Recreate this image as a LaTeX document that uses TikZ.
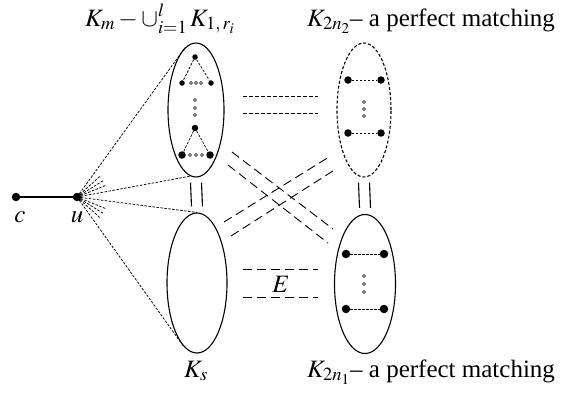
\documentclass[tikz,border=0pt]{standalone}
\usepackage{mathptmx}
\usepackage{fontspec}
\setmainfont{Liberation Serif}
\usetikzlibrary{shapes.geometric,calc}
\begin{document}
\begin{tikzpicture}[x=1pt,y=-1pt,
  ell/.style={draw, ellipse, line width=1.1pt, inner sep=0pt},
  vtx/.style={circle, fill, inner sep=0pt, minimum size=#1},
  vtx/.default=5pt,
  sdot/.style={circle, draw, line width=0.6pt, inner sep=0pt, minimum size=3pt},
  fan/.style={line width=0.75pt, dash pattern=on 2.5pt off 1.5pt},
  inner/.style={line width=0.7pt, dash pattern=on 2.5pt off 1.5pt},
  shortdash/.style={line width=0.9pt, dash pattern=on 4pt off 2pt},
  longdash/.style={line width=0.9pt, dash pattern=on 9pt off 5pt},
  link/.style={line width=1.1pt},
  lbl/.style={font=\fontsize{25}{29}\selectfont, inner sep=0pt, anchor=base}
]
\useasboundingbox (0,0) rectangle (561,394);

% ellipses
\node[ell, minimum width=56pt, minimum height=134pt] (A) at (196,110) {};
\node[ell, minimum width=60pt, minimum height=140pt] (B) at (197,283) {};
\node[ell, dash pattern=on 3pt off 2pt, minimum width=54pt, minimum height=134pt] (C) at (364,110) {};
\node[ell, minimum width=61pt, minimum height=139pt] (D) at (365,284) {};

% c and u
\node[vtx=8.5pt] (c) at (16,197) {};
\node[vtx=8.5pt] (u) at (77,197) {};
\draw[line width=1.3pt] (c) -- (u);
\node[lbl] (cl) at (20,222) {$c$};
\node[lbl] (ul) at (77,222) {$u$};

% fan from u
\draw[fan] (u.center) -- (A.100);
\draw[fan] (u.center) -- (A.265);
\draw[fan] (u.center) -- (B.north);
\draw[fan] (u.center) -- (B.258);
\foreach \a in {42,32,22,-22,-32,-42}
  \draw[fan] (u.center) -- ++({31*cos(\a)},{-31*sin(\a)});

% contents of A
\node[vtx=5.5pt] (a1) at (195,57) {};
\node[vtx=5.5pt] (a2) at (182,83) {};
\node[vtx=5.5pt] (a3) at (211,83) {};
\draw[inner] (a1) -- (a2);
\draw[inner] (a1) -- (a3);
\foreach \x in {191,196,201} \node[sdot] at (\x,83) {};
\foreach \y in {100,108,115} \node[sdot] at (195,\y) {};
\node[vtx=6.5pt] (a4) at (195,128) {};
\node[vtx=7.5pt] (a5) at (182,155) {};
\node[vtx=7.5pt] (a6) at (210,155) {};
\draw[inner] (a4) -- (a5);
\draw[inner] (a4) -- (a6);
\foreach \x in {190,196,202} \node[sdot] at (\x,155) {};

% contents of C
\node[vtx=7.5pt] (c1) at (348,80) {};
\node[vtx=7.5pt] (c2) at (381,80) {};
\node[vtx=7.5pt] (c3) at (348,133) {};
\node[vtx=7.5pt] (c4) at (381,133) {};
\draw[inner] (c1) -- (c2);
\draw[inner] (c3) -- (c4);
\foreach \y in {102,109,116} \node[sdot] at (364,\y) {};

% contents of D
\node[vtx=8.5pt] (d1) at (346,254) {};
\node[vtx=8.5pt] (d2) at (384,254) {};
\node[vtx=8.5pt] (d3) at (346,309) {};
\node[vtx=8.5pt] (d4) at (384,309) {};
\draw[inner] (d1) -- (d2);
\draw[inner] (d3) -- (d4);
\foreach \y in {276,284,292} \node[sdot] at (364,\y) {};

% double vertical links
\draw[link] ($(A.south)+(-5.5,5)$) -- ($(B.north)+(-5.5,-6)$);
\draw[link] ($(A.south)+(5.5,5)$) -- ($(B.north)+(5.5,-6)$);
\draw[link] ($(C.south)+(-5.5,5)$) -- ($(D.north)+(-5.5,-6)$);
\draw[link] ($(C.south)+(5.5,5)$) -- ($(D.north)+(5.5,-6)$);

% A -- C dashed pair
\draw[shortdash] (243,96) -- (318,96);
\draw[shortdash] (243,113) -- (318,113);

% B -- D with E
\draw[longdash] (243,269) -- (318,269);
\draw[longdash] (243,297) -- (318,297);
\node[lbl] (E) at (281,292) {$E$};

% crossing lines
\draw[longdash] (232,152) -- (333,229);
\draw[longdash] (228,165) -- (328,243);
\draw[longdash] (224,222) -- (329,157);
\draw[longdash] (231,236) -- (336,169);

% labels
\node[lbl] (tl) at (160,26) {$K_m - \mathop{\cup}\nolimits_{i=1}^{l} K_{1,\,r_i}$};
\node[lbl] (tr) at (431,26) {$K_{2n_2}$– a perfect matching};
\node[lbl] (bl) at (196,377) {$K_s$};
\node[lbl] (br) at (431,377) {$K_{2n_1}$– a perfect matching};
\end{tikzpicture}
\end{document}
